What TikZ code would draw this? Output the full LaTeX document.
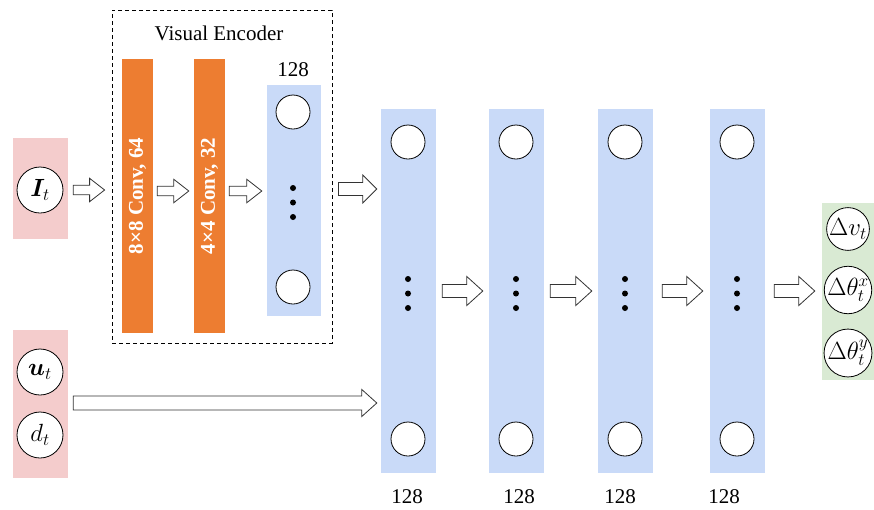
\documentclass[tikz,border=0pt]{standalone}
\usepackage{fontspec}
\usepackage{amsmath,bm}
\setmainfont{Liberation Serif}
\usetikzlibrary{calc}

\definecolor{pinkbg}{HTML}{F4CCCC}
\definecolor{bluebg}{HTML}{C9DAF8}
\definecolor{greenbg}{HTML}{D9EAD3}
\definecolor{convorange}{HTML}{ED7D31}
\definecolor{arrowline}{HTML}{333333}

\tikzset{
  panel/.style={fill=#1, draw=none, inner sep=0pt},
  unit/.style={circle, draw=black, fill=white, line width=0.8pt, minimum size=#1,
    inner sep=0pt, font=\fontsize{24}{28}\selectfont},
  outunit/.style={unit=#1, font=\fontsize{23}{27}\selectfont},
  dotmark/.style={circle, fill=black, inner sep=0pt, minimum size=6pt},
  lbl/.style={font=\fontsize{21}{24}\selectfont, inner sep=0pt},
  conv/.style={fill=convorange, draw=none, minimum width=31pt, minimum height=274pt, inner sep=0pt},
  convtext/.style={text=white, font=\bfseries\fontsize{21}{24}\selectfont, rotate=90, inner sep=0pt},
  % hollow block arrow drawn at the height of its start point
  blk/.style n args={3}{draw=arrowline, fill=white, line width=0.8pt, line join=miter,
    to path={let \p1=(\tikztostart), \p2=(\tikztotarget) in
      (\x1,\y1+#1) -- (\x2-#3,\y1+#1) -- (\x2-#3,\y1+#2) -- (\x2,\y1)
      -- (\x2-#3,\y1-#2) -- (\x2-#3,\y1-#1) -- (\x1,\y1-#1) -- cycle}},
}

\begin{document}
\begin{tikzpicture}[x=1pt, y=-1pt]
\useasboundingbox (0,0) rectangle (874,509);

% input panels
\node[panel=pinkbg, minimum width=55pt, minimum height=101pt] (inA) at (40.5,188.5) {};
\node[unit=46pt] (It) at (40,190) {$\bm{I}_t$};
\node[panel=pinkbg, minimum width=55pt, minimum height=148pt] (inB) at (40.5,404) {};
\node[unit=46pt] (ut) at (40,372) {$\bm{u}_t$};
\node[unit=46pt] (dt) at (40,435) {$d_t$};

% visual encoder
\node[draw=black, dashed, dash pattern=on 4pt off 3pt, line width=0.8pt,
      minimum width=220pt, minimum height=333pt, inner sep=0pt] (encbox) at (222,176.5) {};
\node[lbl] (enctitle) at (219,33) {Visual Encoder};
\node[conv] (conv1) at (137.5,196) {};
\node[convtext] (conv1t) at (conv1) {8×8 Conv, 64};
\node[conv] (conv2) at (209.5,196) {};
\node[convtext] (conv2t) at (conv2) {4×4 Conv, 32};
\node[panel=bluebg, minimum width=54pt, minimum height=231pt] (enc) at (294,200.5) {};
\node[lbl] (enclbl) at (293,70) {128};
\node[unit=34pt] (e1) at (293,112) {};
\node[unit=34pt] (e2) at (293,287) {};
\node[dotmark] (ed1) at (293,188) {};
\node[dotmark] (ed2) at (293,202.5) {};
\node[dotmark] (ed3) at (293,217) {};

% fully connected layers
\foreach \i/\cx/\lx in {1/408.5/407, 2/516.5/519, 3/625.5/620, 4/737.5/724}{
  \node[panel=bluebg, minimum width=55pt, minimum height=364pt] (col\i) at (\cx,291) {};
  \node[unit=34pt] (c\i a) at (\cx-0.5,142) {};
  \node[unit=34pt] (c\i b) at (\cx-0.5,439) {};
  \node[dotmark] (c\i d1) at (\cx-0.5,279) {};
  \node[dotmark] (c\i d2) at (\cx-0.5,293.5) {};
  \node[dotmark] (c\i d3) at (\cx-0.5,308) {};
  \node[lbl] (c\i lbl) at (\lx,497) {128};
}

% outputs
\node[panel=greenbg, minimum width=52pt, minimum height=177pt] (out) at (848,291.5) {};
\node[outunit=42pt] (dv) at (848,229) {$\Delta v_t$};
\node[outunit=42pt] (dthx) at (848,290) {$\Delta\theta_t^x$};
\node[outunit=42pt] (dthy) at (848,353) {$\Delta\theta_t^y$};

% block arrows
\draw[blk={4.7pt}{11.7pt}{15pt}] ($(inA.east |- It)+(5,0)$) to ($(encbox.west |- It)+(-7,0)$);
\draw[blk={4.7pt}{11.7pt}{15pt}] ($(conv1.east |- It)+(4,1)$) to ($(conv2.west |- It)+(-5,1)$);
\draw[blk={4.7pt}{11.7pt}{15pt}] ($(conv2.east |- It)+(4,1)$) to ($(enc.west |- It)+(-5,1)$);
\draw[blk={6.5pt}{14pt}{14pt}] ($(encbox.east |- It)+(6,-1)$) to ($(col1.west |- It)+(-4,-1)$);
\draw[blk={7pt}{13.5pt}{15pt}] ($(inB.east)+(5,-1)$) to ($(col1.west |- inB.east)+(-4,-1)$);
\draw[blk={6.5pt}{14.5pt}{16pt}] ($(col1.east)+(6,0)$) to ($(col2.west)+(-6,0)$);
\draw[blk={6.5pt}{14.5pt}{16pt}] ($(col2.east)+(6,0)$) to ($(col3.west)+(-6,0)$);
\draw[blk={6.5pt}{14.5pt}{16pt}] ($(col3.east)+(9,0)$) to ($(col4.west)+(-7,0)$);
\draw[blk={6.5pt}{14.5pt}{16pt}] ($(col4.east)+(9,0)$) to ($(out.west)+(-7,0)$);
\end{tikzpicture}
\end{document}
